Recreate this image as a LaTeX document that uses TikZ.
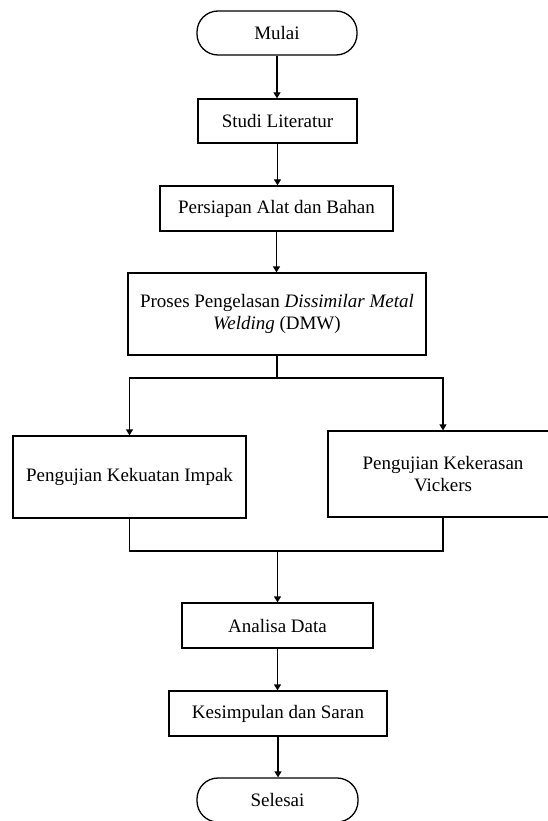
\documentclass[tikz,border=0pt]{standalone}
\usepackage{fontspec}
\setmainfont{Liberation Serif}
\usetikzlibrary{arrows.meta}
\begin{document}
\begin{tikzpicture}[x=1pt,y=-1pt,
  every node/.style={font=\fontsize{19}{22}\selectfont, align=center, inner sep=0pt},
  box/.style={draw, line width=1.3pt, rectangle},
  term/.style={draw, line width=1.3pt, rectangle, rounded corners=21pt},
  arr/.style={line width=1.3pt, -{Triangle[width=7pt,length=6pt]}},
  ln/.style={line width=1.3pt}]
\useasboundingbox (0,0) rectangle (548,821);
\node[term, minimum width=160pt, minimum height=44pt] (mulai) at (277,33) {Mulai};
\node[box, minimum width=159pt, minimum height=44pt] (studi) at (277.5,121) {Studi Literatur};
\node[box, minimum width=233pt, minimum height=45pt] (persiapan) at (276.5,208.5) {Persiapan Alat dan Bahan};
\node[box, minimum width=298pt, minimum height=82pt] (proses) at (277,314) {Proses Pengelasan \textit{Dissimilar Metal}\\\textit{Welding} (DMW)};
\node[box, minimum width=233pt, minimum height=82pt] (impak) at (129.5,477) {Pengujian Kekuatan Impak};
\node[box, minimum width=230pt, minimum height=86pt] (vickers) at (443,474) {Pengujian Kekerasan\\Vickers};
\node[box, minimum width=191pt, minimum height=45pt] (analisa) at (277.5,625.5) {Analisa Data};
\node[box, minimum width=218pt, minimum height=45pt] (kesimpulan) at (278,713.5) {Kesimpulan dan Saran};
\node[term, minimum width=161pt, minimum height=44pt] (selesai) at (277.5,800) {Selesai};
\coordinate (split) at (277,378);
\coordinate (merge) at (277.5,551);
\draw[arr] (mulai.south) -- (mulai.south |- studi.north);
\draw[arr] (studi.south) -- (studi.south |- persiapan.north);
\draw[arr] (persiapan.south) -- (persiapan.south |- proses.north);
\draw[ln] (proses.south) -- (split);
\draw[arr] (split) -| (impak.north);
\draw[arr] (split) -| (vickers.north);
\draw[ln] (impak.south) |- (merge) -| (vickers.south);
\draw[arr] (merge) -- (merge |- analisa.north);
\draw[arr] (analisa.south) -- (analisa.south |- kesimpulan.north);
\draw[arr] (kesimpulan.south) -- (kesimpulan.south |- selesai.north);
\end{tikzpicture}
\end{document}
